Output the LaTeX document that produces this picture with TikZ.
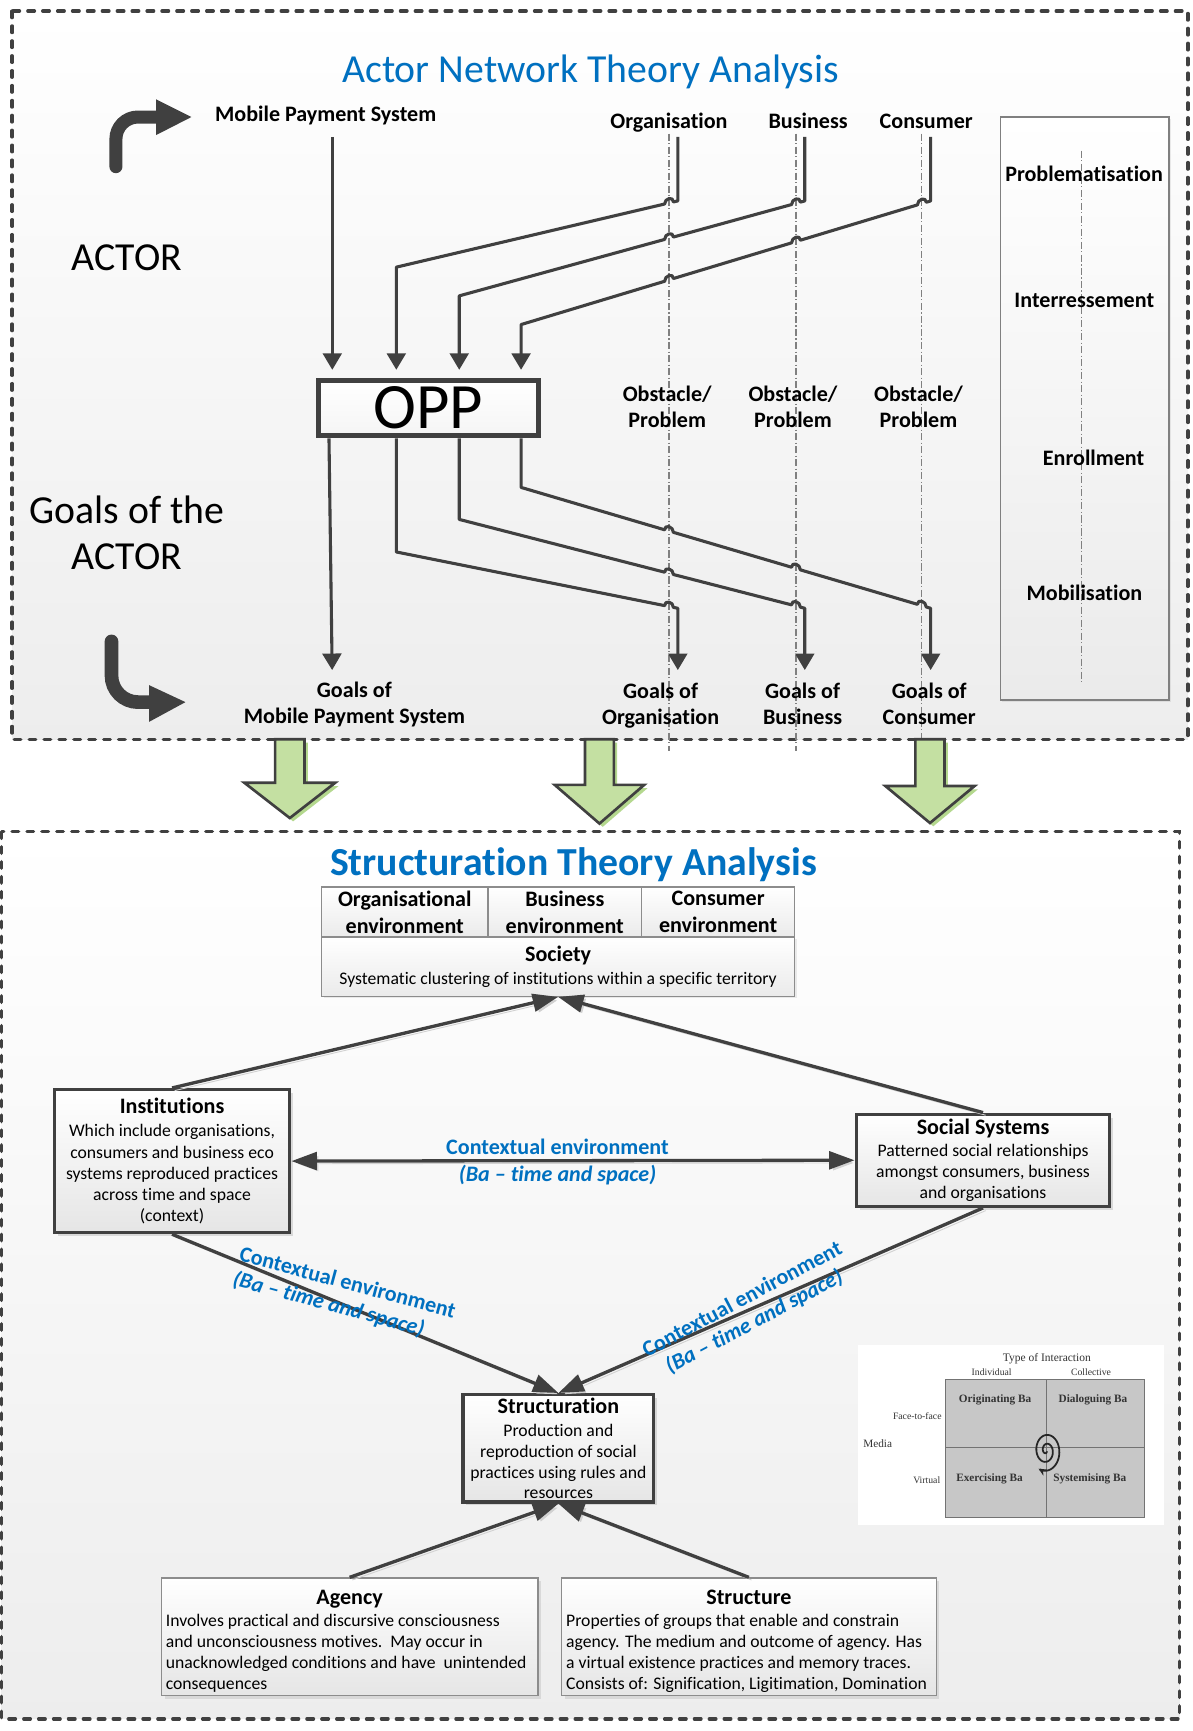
\documentclass[tikz,border=0pt]{standalone}
\usepackage{fontspec}
\setmainfont{Carlito}[Ligatures=NoCommon]
\newfontfamily\insetfont{Liberation Serif}
\usetikzlibrary{arrows.meta,shadows,calc}

\definecolor{ink}{HTML}{404040}
\definecolor{ttlblue}{HTML}{0070C0}
\definecolor{leaf}{HTML}{C4E0A2}
\definecolor{leafshade}{HTML}{B4D88E}
\newcommand\tstrut{\rule{0pt}{8pt}}

\tikzset{
  bigtip/.tip={Triangle[length=11.5pt,width=8pt]},
  smalltip/.tip={Triangle[length=7.5pt,width=8.5pt]},
}

\begin{document}
\begin{tikzpicture}[x=0.5pt,y=-0.5pt,
  frame/.style={draw=ink, line width=1.5pt, dash pattern=on 3pt off 3.75pt,
    line cap=round, top color=white, bottom color=black!7},
  guide/.style={draw=black!50, line width=0.5pt,
    dash pattern=on 3.2pt off 1.1pt on 0.5pt off 1.1pt},
  lbl/.style={font=\bfseries\fontsize{10}{11.7}\selectfont, inner sep=0pt, align=center},
  link/.style={draw=ink, line width=1.4pt, line join=round, -smalltip},
  rel/.style={draw=ink, line width=1.5pt, -bigtip,
    preaction={draw=black!18, transform canvas={xshift=1.2pt, yshift=-1.2pt}}},
  shade box/.style={top color=white, bottom color=black!10},
  heavybox/.style={draw=ink, line width=1.5pt, shade box, inner sep=0pt,
    drop shadow={shadow xshift=1.5pt, shadow yshift=-1.5pt, opacity=0.25}},
  lightbox/.style={draw=black!45, line width=0.6pt, shade box, inner sep=0pt,
    drop shadow={shadow xshift=1.5pt, shadow yshift=-1.5pt, opacity=0.2}},
  cell/.style={draw=black!45, line width=0.6pt, top color=white, bottom color=black!8,
    inner sep=0pt, align=center},
  blue note/.style={font=\bfseries\fontsize{10}{11.5}\selectfont, text=ttlblue, inner sep=0pt},
  inset/.style={font=\insetfont\fontsize{4.4}{5}\selectfont, text=black!80, inner sep=0pt},
]
\useasboundingbox (0,0) rectangle (1080,1568);
\fill[white] (0,0) rectangle (1080,1568);

% ---------- frames ----------
\draw[frame] (11,10) rectangle (1076,669.6);
\draw[frame] (1.5,753.5) rectangle (1068.7,1557);

% ---------- actor network part ----------
\node[font=\fontsize{18}{21}\selectfont, text=ttlblue, anchor=base, inner sep=0pt] (ttl1) at (535,75) {Actor Network Theory Analysis};

% right-hand phase panel
\node[draw=black!50, line width=0.6pt, top color=white, bottom color=black!8,
  minimum width=76.5pt, minimum height=264pt, inner sep=0pt,
  drop shadow={shadow xshift=1pt, shadow yshift=-1pt, opacity=0.15}] (panel) at (982.5,370) {};
\coordinate (pg1) at (979.6,136.5);
\coordinate (pg2) at (979.6,619);
\draw[guide] (pg1) -- (pg2);
\node[lbl, anchor=base] (prob) at (982,164.6) {Problematisation};
\node[lbl, anchor=base] (inter) at (982.2,278.5) {Interressement};
\node[lbl, anchor=base] (enrol) at (990.6,421.3) {Enrollment};
\node[lbl, anchor=base] (mobil) at (982.3,543.6) {Mobilisation};

% vertical guides under the three actors
\coordinate (g1t) at (606,121); \coordinate (g1b) at (606,680);
\coordinate (g2t) at (721,121); \coordinate (g2b) at (721,680);
\coordinate (g3t) at (835,121); \coordinate (g3b) at (835,680);
\draw[guide] (g1t) -- (g1b);
\draw[guide] (g2t) -- (g2b);
\draw[guide] (g3t) -- (g3b);

% labels
\node[lbl, anchor=base] (mps) at (295,110) {Mobile Payment System};
\node[lbl, anchor=base] (org) at (606,116) {Organisation};
\node[lbl, anchor=base] (bus) at (732,116) {Business};
\node[lbl, anchor=base] (con) at (839,116) {Consumer};

\node[font=\fontsize{18}{21.1}\selectfont, anchor=base, inner sep=0pt] (actor) at (115,244.6) {ACTOR};
\node[font=\fontsize{18}{21.1}\selectfont, align=center, anchor=north, inner sep=0pt] (goalsactor) at (115,445.6) {\rule{0pt}{14pt}Goals of the\\ACTOR};

\node[draw=ink, line width=2.25pt, top color=white, bottom color=black!4,
  minimum width=99.7pt, minimum height=25.25pt, inner sep=0pt,
  font=\fontsize{29.3}{32}\selectfont] (opp) at (388,369.5) {OPP};

\node[lbl, anchor=north] (ob1) at (604.4,347) {\tstrut Obstacle/\\Problem};
\node[lbl, anchor=north] (ob2) at (718.3,347) {\tstrut Obstacle/\\Problem};
\node[lbl, anchor=north] (ob3) at (832,347) {\tstrut Obstacle/\\Problem};

\node[lbl, anchor=north] (gmps) at (321,615.8) {\tstrut Goals of\\Mobile Payment System};
\node[lbl, anchor=north] (gorg) at (598.4,616.7) {\tstrut Goals of\\Organisation};
\node[lbl, anchor=north] (gbus) at (727,616.7) {\tstrut Goals of\\Business};
\node[lbl, anchor=north] (gcon) at (841.7,616.7) {\tstrut Goals of\\Consumer};

% bent arrows on the left
\draw[ink, line width=5.9pt, rounded corners=10pt, line cap=round] (105,151) -- (105,106) -- (143,106);
\fill[ink] (141.5,90) -- (173.4,106) -- (141.5,122.3) -- cycle;
\draw[ink, line width=6.2pt, rounded corners=12pt, line cap=round] (101,581) -- (101,636) -- (137,636);
\fill[ink] (135,620.6) -- (168,636) -- (135,653.9) -- cycle;

% bend points of the connectors
\coordinate (mT) at (301,124);
\coordinate (oT) at (614,124); \coordinate (oK) at (614,182); \coordinate (oC) at (359,242);
\coordinate (bT) at (729,124); \coordinate (bK) at (729,182); \coordinate (bC) at (416,268);
\coordinate (cT) at (843,124); \coordinate (cK) at (843,182); \coordinate (cC) at (472,294);
\coordinate (oD) at (359,500);   \coordinate (oE) at (614,551);
\coordinate (bD) at (416,470.5); \coordinate (bE) at (729,551);
\coordinate (cD) at (472,441.5); \coordinate (cE) at (843,551);

% actors into the obligatory passage point (with line jumps over the guides)
\draw[link, shorten >=3.5pt] (mT) -- (mT |- opp.north);
\draw[link, shorten >=3.5pt] (oT) -- (oK) -- (610,182.9)
  .. controls (610,177.6) and (602,179.5) .. (602,184.8) -- (oC) -- (oC |- opp.north);
\draw[link, shorten >=3.5pt] (bT) -- (bK) -- (725,183.1)
  .. controls (725,177.8) and (717,180) .. (717,185.3) -- (610,214.7)
  .. controls (610,209.4) and (602,211.6) .. (602,216.9) -- (bC) -- (bC |- opp.north);
\draw[link, shorten >=3.5pt] (cT) -- (cK) -- (839,183.2)
  .. controls (839,177.9) and (831,180.3) .. (831,185.6) -- (725,217.6)
  .. controls (725,212.3) and (717,214.7) .. (717,220) -- (610,252.3)
  .. controls (610,247) and (602,249.5) .. (602,254.8) -- (cC) -- (cC |- opp.north);

% passage point out to the goals
\draw[link, shorten >=4.4pt] ($(opp.south)+(-90,0)$) -- (mT |- gmps.north);
\draw[link, shorten >=4.85pt] (oC |- opp.south) -- (oD) -- (602,548.6)
  .. controls (602,543.3) and (610,544.9) .. (610,550.2) -- (oE) -- (oE |- gorg.north);
\draw[link, shorten >=4.85pt] (bC |- opp.south) -- (bD) -- (602,518.3)
  .. controls (602,513) and (610,515.1) .. (610,520.4) -- (717,547.9)
  .. controls (717,542.6) and (725,544.7) .. (725,550) -- (bE) -- (bE |- gbus.north);
\draw[link, shorten >=4.85pt] (cC |- opp.south) -- (cD) -- (602,479.9)
  .. controls (602,474.6) and (610,476.9) .. (610,482.2) -- (717,513.8)
  .. controls (717,508.5) and (725,510.9) .. (725,516.2) -- (831,547.4)
  .. controls (831,542.1) and (839,544.5) .. (839,549.8) -- (cE) -- (cE |- gcon.north);

% green block arrows between the two analyses
\foreach \cx/\sw/\hw/\hy/\tp in {262.5/13.3/41.2/709/741, 543/13.1/40.5/711/746, 842.4/13.2/40.4/712/745.5} {
  \fill[leafshade, xshift=1.5pt, yshift=-1.5pt]
    (\cx-\sw,669.6) -- (\cx-\sw,\hy) -- (\cx-\hw,\hy) -- (\cx,\tp) -- (\cx+\hw,\hy) -- (\cx+\sw,\hy) -- (\cx+\sw,669.6) -- cycle;
  \filldraw[fill=leaf, draw=ink, line width=1.2pt]
    (\cx-\sw,669.6) -- (\cx-\sw,\hy) -- (\cx-\hw,\hy) -- (\cx,\tp) -- (\cx+\hw,\hy) -- (\cx+\sw,\hy) -- (\cx+\sw,669.6) -- cycle;
}

% ---------- structuration part ----------
\node[font=\bfseries\fontsize{18}{21}\selectfont, text=ttlblue, anchor=base, inner sep=0pt] (ttl2) at (519.4,792.8) {Structuration Theory Analysis};

\node[cell, minimum width=75.35pt, minimum height=22.65pt, font=\bfseries\fontsize{10}{12.2}\selectfont] (envorg) at (366.65,826.05) {Organisational\\environment};
\node[cell, minimum width=69.6pt, minimum height=22.65pt, font=\bfseries\fontsize{10}{12.2}\selectfont] (envbus) at (511.6,826.05) {Business\\environment};
\node[cell, minimum width=69.3pt, minimum height=22.65pt, font=\bfseries\fontsize{10}{12.2}\selectfont] (envcon) at (650.5,826.05) {Consumer\\environment};
\node[cell, minimum width=214.25pt, minimum height=26.85pt, font=\fontsize{8}{10.55}\selectfont,
  drop shadow={shadow xshift=1pt, shadow yshift=-1pt, opacity=0.15}] (soc) at (505.55,875.55)
  {{\bfseries\fontsize{10}{10.55}\selectfont Society}\\Systematic clustering of institutions within a specific territory};

\node[heavybox, minimum width=106.65pt, minimum height=64.75pt, align=center,
  font=\fontsize{8}{9.6}\selectfont] (inst) at (155.85,1051.75)
  {{\bfseries\fontsize{10}{9.6}\selectfont Institutions}\\[1pt]Which include organisations,\\consumers and business eco\\systems reproduced practices\\across time and space\\(context)};

\node[heavybox, minimum width=114.85pt, minimum height=41.7pt, align=center,
  font=\fontsize{8}{9.5}\selectfont] (sys) at (890.45,1051)
  {{\bfseries\fontsize{10}{9.5}\selectfont Social Systems}\\[0.8pt]Patterned social relationships\\amongst consumers, business\\and organisations};

\node[heavybox, minimum width=86.35pt, minimum height=48.65pt, align=center,
  font=\fontsize{8}{9.4}\selectfont] (struc) at (505.85,1311.95)
  {{\bfseries\fontsize{10}{9.4}\selectfont Structuration}\\[1.1pt]Production and\\reproduction of social\\practices using rules and\\resources};

\node[lightbox, minimum width=170.45pt, minimum height=53.15pt] (agency) at (316.75,1482.55) {};
\node[lightbox, minimum width=169.65pt, minimum height=53.15pt] (structure) at (678.35,1482.55) {};
\node[lbl, anchor=base] (agencyT) at (316.7,1453.5) {Agency};
\node[lbl, anchor=base] (structT) at (678.4,1453.5) {Structure};
\node[font=\fontsize{8}{9.4}\selectfont, align=left, anchor=north west, inner sep=0pt] (agencyB) at (149.8,1457.3)
  {\tstrut Involves practical and discursive consciousness\\and unconsciousness motives.\ \ May occur in\\unacknowledged conditions and have\ \ unintended\\consequences};
\node[font=\fontsize{8}{9.4}\selectfont, align=left, anchor=north west, inner sep=0pt] (structB) at (512.5,1457.3)
  {\tstrut Properties of groups that enable and constrain\\agency. The medium and outcome of agency. Has\\a virtual existence practices and memory traces.\\Consists of: Signification, Ligitimation, Domination};

% relations
\draw[rel] (inst.north) -- (soc.south);
\draw[rel] (sys.north) -- (soc.south);
\draw[rel, bigtip-bigtip] (inst.east) -- (sys.west);
\draw[rel] (inst.south) -- (struc.north);
\draw[rel] (sys.south) -- (struc.north);
\draw[rel] (agency.north) -- (struc.south);
\draw[rel] (structure.north) -- (struc.south);

% context labels
\node[blue note, font=\bfseries\fontsize{10}{12.05}\selectfont, align=center, anchor=north] (ctxmid) at (505,1029.6)
  {\tstrut Contextual environment\\\textit{(Ba – time and space)}};
\node[blue note, align=left, rotate=-15] (ctxleft) at (311.7,1173.8)
  {Contextual environment\\\textit{(Ba – time and space)}};
\node[blue note, align=center, rotate=28] (ctxright) at (678,1187.7)
  {Contextual environment\\\textit{(Ba – time and space)}};

% ---------- Ba diagram ----------
\fill[white] (777,1218.6) rectangle (1054.3,1381.7);
\filldraw[fill=black!22, draw=black!55, line width=0.4pt] (856.6,1249.7) rectangle (1036.9,1374.2);
\draw[black!55, line width=0.4pt] (947.9,1249.7) -- (947.9,1374.2) (856.6,1310.7) -- (1036.9,1310.7);
\node[inset, font=\insetfont\fontsize{5.2}{6}\selectfont] (bati) at (948.3,1230.5) {Type of Interaction};
\node[inset] (baind) at (898.3,1242.9) {Individual};
\node[inset] (bacol) at (988.3,1242.9) {Collective};
\node[inset, font=\insetfont\bfseries\fontsize{5.1}{6}\selectfont] (baorig) at (901.4,1268) {Originating Ba};
\node[inset, font=\insetfont\bfseries\fontsize{5.1}{6}\selectfont] (badial) at (990,1268) {Dialoguing Ba};
\node[inset, font=\insetfont\bfseries\fontsize{5.1}{6}\selectfont] (baexer) at (896.3,1339.5) {Exercising Ba};
\node[inset, font=\insetfont\bfseries\fontsize{5.1}{6}\selectfont] (basyst) at (987.2,1339.5) {Systemising Ba};
\node[inset] (baf2f) at (830.9,1283) {Face-to-face};
\node[inset, font=\insetfont\fontsize{5.1}{6}\selectfont] (bamed) at (795,1308.1) {Media};
\node[inset] (bavir) at (839.5,1340.7) {Virtual};
\draw[black!85, line width=0.8pt, -{Stealth[length=3.5pt,width=3.2pt]}]
  plot[smooth, domain=40:840, samples=100] ({947.7+0.0165*\x*cos(\x)}, {1314+0.0225*\x*sin(\x)});

\end{tikzpicture}
\end{document}
